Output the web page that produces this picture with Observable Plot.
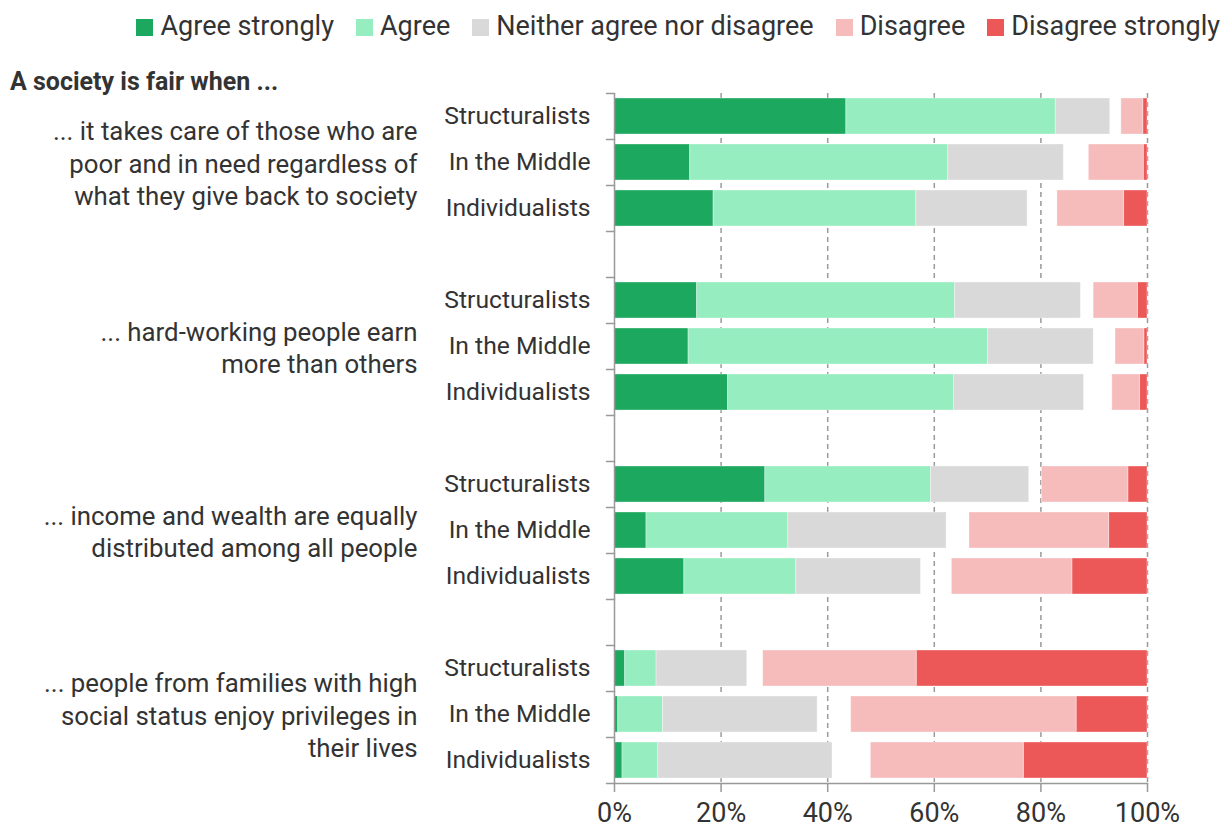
<!DOCTYPE html>
<html>
<head>
<meta charset="utf-8">
<script src="https://cdn.jsdelivr.net/npm/d3@7"></script>
<script src="https://cdn.jsdelivr.net/npm/@observablehq/plot@0.6"></script>
<style>
  html, body { margin: 0; padding: 0; background: #fff; }
  #wrap { position: relative; width: 1224px; height: 830px; overflow: hidden; font-family: Roboto, "Noto Sans", sans-serif; color: #333; background: #fff; }
  #chart { position: absolute; left: 0; top: 0; z-index: 1; }
  #legend { position: absolute; top: 9px; right: 4px; z-index: 2; }
  #title { position: absolute; left: 10px; top: 67px; font-size: 25px; font-weight: 700; color: #333; letter-spacing: 0px; z-index: 2; white-space: nowrap; }
  .lg-swatches { font-family: Roboto, sans-serif !important; font-size: 27px !important; color: #333; margin: 0 !important; }
  .lg-swatches .lg-swatch { margin-right: 22px !important; margin-left: 0 !important; }
  .lg-swatches .lg-swatch:last-child { margin-right: 0 !important; }
  .lg-swatches .lg-swatch > svg { margin-right: 7px !important; margin-top: 4px; }
</style>
</head>
<body>
<div id="wrap">
  <div id="chart"></div>
  <div id="legend"></div>
  <div id="title">A society is fair when ...</div>
</div>
<script>
// ---- data ----
const categories = ["Agree strongly", "Agree", "Neither agree nor disagree", "Disagree", "Disagree strongly"];
const colors = ["#1ca85f", "#96edc0", "#d9d9d9", "#f6bbbb", "#ec5858"];
const groups = ["Structuralists", "In the Middle", "Individualists"];
const questions = [
  "... it takes care of those who are\npoor and in need regardless of\nwhat they give back to society",
  "... hard-working people earn\nmore than others",
  "... income and wealth are equally\ndistributed among all people",
  "... people from families with high\nsocial status enjoy privileges in\ntheir lives"
];
// order: q1 (S, M, I), q2 (S, M, I), q3 (S, M, I), q4 (S, M, I)
const agreeStrongly    = [43.5, 14.2, 18.6, 15.5, 13.9, 21.3, 28.3, 6.0, 13.1, 2.0, 0.7, 1.5];
const agree            = [39.3, 48.4, 38.0, 48.4, 56.2, 42.4, 31.1, 26.6, 21.0, 5.9, 8.4, 6.7];
const neither          = [10.2, 21.7, 20.9, 23.6, 19.8, 24.4, 18.4, 29.7, 23.4, 17.0, 29.0, 32.7];
const disagree         = [4.1, 10.3, 12.5, 8.3, 5.4, 5.2, 16.2, 26.2, 22.6, 28.8, 42.3, 28.7];
const disagreeStrongly = [0.8, 0.7, 4.4, 1.8, 0.6, 1.4, 3.6, 7.2, 14.1, 43.3, 13.3, 23.2];
const xTicks = [0, 20, 40, 60, 80, 100];
const gridTicks = [20, 40, 60, 80, 100];

// ---- build tables ----
const rowKeys = [];
questions.forEach((q, qi) => {
  groups.forEach(g => rowKeys.push(`${qi}|${g}`));
  if (qi < questions.length - 1) rowKeys.push(`gap${qi}`);
});
const segs = [];
questions.forEach((q, qi) => {
  groups.forEach((g, gi) => {
    const i = qi * 3 + gi;
    const key = `${qi}|${g}`;
    let c = 0;
    [[categories[0], agreeStrongly[i]], [categories[1], agree[i]], [categories[2], neither[i]]].forEach(([cat, v]) => {
      segs.push({key, cat, x1: c, x2: c + v});
      c += v;
    });
    let r = 100;
    [[categories[4], disagreeStrongly[i]], [categories[3], disagree[i]]].forEach(([cat, v]) => {
      segs.push({key, cat, x1: r - v, x2: r});
      r -= v;
    });
  });
});
const qLabels = questions.map((q, qi) => ({key: `${qi}|${groups[1]}`, text: q}));
const lastKey = rowKeys[rowKeys.length - 1];

const colorOpts = {domain: categories, range: colors};
const tickShape = {draw(context, l) { context.moveTo(0, 0); context.lineTo(0, -l); }};

const plot = Plot.plot({
  width: 1224,
  height: 830,
  marginTop: 93,
  marginBottom: 47,
  marginLeft: 614,
  marginRight: 77,
  style: {fontFamily: "Roboto, sans-serif", fontSize: "24px", color: "#333", background: "transparent"},
  x: {domain: [0, 100], axis: null},
  y: {domain: rowKeys, paddingInner: 0.22, paddingOuter: 0.11, axis: null},
  color: colorOpts,
  marks: [
    // dashed grid
    Plot.ruleX(gridTicks, {stroke: "#9a9a9a", strokeWidth: 1.5, strokeDasharray: "5,4"}),
    // bars
    Plot.barX(segs, {y: "key", x1: "x1", x2: "x2", fill: "cat", stroke: "white", strokeOpacity: 0.35, strokeWidth: 1}),
    // left axis line
    Plot.ruleX([0], {stroke: "#999", strokeWidth: 1.5}),
    // bottom axis line
    Plot.frame({anchor: "bottom", stroke: "#999", strokeWidth: 1.5}),
    // y boundary ticks
    Plot.vector(rowKeys, {y: d => d, x: 0, length: 8, rotate: -90, anchor: "start", shape: tickShape, stroke: "#999", strokeWidth: 1.5, dy: -23}),
    Plot.vector([lastKey], {y: d => d, x: 0, length: 8, rotate: -90, anchor: "start", shape: tickShape, stroke: "#999", strokeWidth: 1.5, dy: 23}),
    // x axis ticks and labels
    Plot.axisX(xTicks, {anchor: "bottom", tickSize: 9, tickPadding: 10, stroke: "#999", strokeWidth: 1.5, tickFormat: d => d + "%", fontSize: 27, fill: "#333", label: null}),
    // group labels
    Plot.axisY(rowKeys, {anchor: "left", tickSize: 0, tickPadding: 24, fontSize: 24.7, fill: "#333", label: null,
      tickFormat: d => d.startsWith("gap") ? "" : d.split("|")[1]}),
    // question labels
    Plot.text(qLabels, {y: "key", text: "text", frameAnchor: "left", dx: -197, textAnchor: "end", lineHeight: 1.26, fontSize: 25.8, fill: "#333"})
  ]
});
document.getElementById("chart").appendChild(plot);

const legend = Plot.legend({color: colorOpts, legend: "swatches", swatchSize: 17, className: "lg"});
document.getElementById("legend").appendChild(legend);
</script>
</body>
</html>
